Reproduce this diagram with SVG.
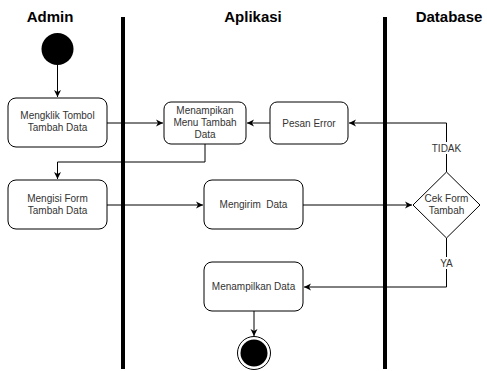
<svg xmlns="http://www.w3.org/2000/svg" width="487" height="371" viewBox="0 0 487 371">
<defs>
<marker id="arr" markerWidth="8" markerHeight="8" refX="7" refY="4" orient="auto" markerUnits="userSpaceOnUse">
<path d="M0,0.5 L7,4 L0,7.5 L2,4 Z" fill="#000"/>
</marker>
</defs>
<style>
.title{font-family:"Liberation Sans",Arial,sans-serif;font-size:15px;font-weight:bold;fill:#000;text-anchor:middle}
.box{fill:#fff;stroke:#000;stroke-width:1}
.t{font-family:"Liberation Sans",Arial,sans-serif;font-size:10px;fill:#333;text-anchor:middle}
.lane{stroke:#000;stroke-width:4}
.c{fill:none;stroke:#000;stroke-width:1}
.lbl{font-family:"Liberation Sans",Arial,sans-serif;font-size:10px;fill:#333;text-anchor:middle}
</style>
<rect width="487" height="371" fill="#fff"/>
<g id="lanes">
<text class="title" x="50" y="22">Admin</text>
<text class="title" x="253" y="22">Aplikasi</text>
<text class="title" x="449" y="22">Database</text>
<line class="lane" x1="123" y1="17" x2="123" y2="369"/>
<line class="lane" x1="385" y1="17" x2="385" y2="369"/>
</g>
<g id="connectors">
<path class="c" d="M57.5,65 L57.5,97" marker-end="url(#arr)"/>
<path class="c" d="M107,123 L163,123" marker-end="url(#arr)"/>
<path class="c" d="M270,123 L247,123" marker-end="url(#arr)"/>
<path class="c" d="M446.5,172 L446.5,123 L349,123" marker-end="url(#arr)"/>
<path class="c" d="M205,144 L205,162 L57.5,162 L57.5,179" marker-end="url(#arr)"/>
<path class="c" d="M107,205 L203,205" marker-end="url(#arr)"/>
<path class="c" d="M303,205 L412,205" marker-end="url(#arr)"/>
<path class="c" d="M446.5,238 L446.5,287 L304,287" marker-end="url(#arr)"/>
<path class="c" d="M254,311 L254,336" marker-end="url(#arr)"/>
<rect x="430" y="142" width="33" height="12" fill="#fff"/>
<text class="lbl" x="446.5" y="152">TIDAK</text>
<rect x="438" y="257" width="17" height="12" fill="#fff"/>
<text class="lbl" x="446.5" y="267">YA</text>
</g>
<g id="start">
<circle cx="57.5" cy="49" r="16" fill="#000"/>
</g>
<g id="mengklik">
<rect class="box" x="8" y="98" width="99" height="49" rx="8"/>
<text class="t" x="57.5" y="119">Mengklik Tombol</text>
<text class="t" x="57.5" y="131">Tambah Data</text>
</g>
<g id="menampikan">
<rect class="box" x="164" y="102" width="82" height="42" rx="7"/>
<text class="t" x="205" y="114">Menampikan</text>
<text class="t" x="205" y="126">Menu Tambah</text>
<text class="t" x="205" y="138">Data</text>
</g>
<g id="pesan">
<rect class="box" x="270" y="102" width="78" height="42" rx="7"/>
<text class="t" x="309" y="127">Pesan Error</text>
</g>
<g id="mengisi">
<rect class="box" x="8" y="180" width="99" height="49" rx="8"/>
<text class="t" x="57.5" y="202">Mengisi Form</text>
<text class="t" x="57.5" y="214">Tambah Data</text>
</g>
<g id="mengirim">
<rect class="box" x="204" y="180" width="99" height="49" rx="8"/>
<text class="t" x="253.5" y="208" xml:space="preserve">Mengirim  Data</text>
</g>
<g id="cek">
<polygon class="box" points="446.5,172 480,205 446.5,238 413,205"/>
<text class="t" x="446.5" y="202">Cek Form</text>
<text class="t" x="446.5" y="214">Tambah</text>
</g>
<g id="menampilkan">
<rect class="box" x="204" y="262" width="99" height="49" rx="8"/>
<text class="t" x="253.5" y="290">Menampilkan Data</text>
</g>
<g id="end">
<circle cx="254" cy="353" r="16.5" fill="#fff" stroke="#000" stroke-width="1"/>
<circle cx="254" cy="353" r="13.5" fill="#000"/>
</g>
</svg>
